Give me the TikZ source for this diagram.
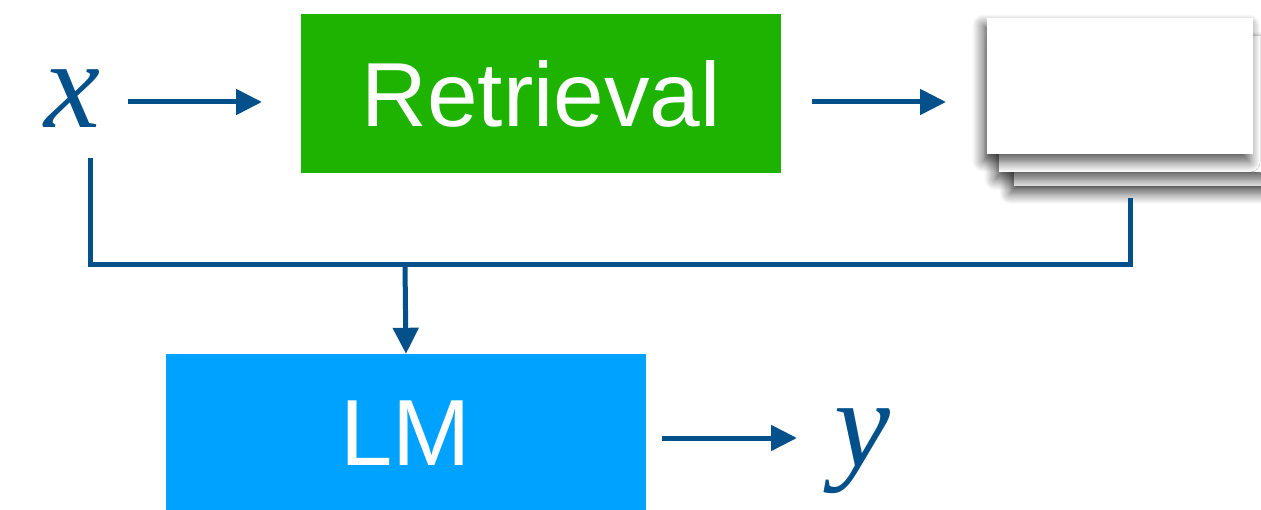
\documentclass[tikz,border=0pt]{standalone}
\usepackage{fontspec}
\setmainfont{Liberation Sans}
\newfontfamily\mathlike{Liberation Serif}
\usetikzlibrary{arrows.meta,shadows,shadows.blur}
\definecolor{linec}{HTML}{04508A}
\definecolor{retr}{HTML}{1DB300}
\definecolor{lmc}{HTML}{00A2FF}
\tikzset{
  conn/.style={draw=linec,line width=5pt},
  arr/.style={conn,-{Triangle[length=26pt,width=25pt]}},
  var/.style={text=linec,font=\mathlike\itshape\fontsize{126}{126}\selectfont,inner sep=0pt,anchor=base},
  blockbox/.style={minimum width=480pt,inner sep=0pt,text=white},
  sheet/.style={fill=white,inner sep=0pt,anchor=north west,blur shadow={shadow xshift=-4pt,shadow yshift=-7pt,shadow blur steps=10,shadow blur radius=11pt,shadow opacity=70}},
}
\begin{document}
\begin{tikzpicture}[x=1pt,y=-1pt]
\useasboundingbox (0,0) rectangle (1261,510);
\clip (0,0) rectangle (1261,510);
\node[var] (x) at (72,128) {x};
\node[var] (y) at (862,466) {y};
\node[blockbox,fill=retr,minimum height=159pt,font=\fontsize{91}{91}\selectfont] (ret) at (541,93.5) {Retrieval};
\node[blockbox,fill=lmc,minimum height=158pt,font=\fontsize{94}{94}\selectfont] (lm) at (406,433) {LM};
% stacked documents
\node[sheet,minimum width=270pt,minimum height=150pt] (d3) at (1014,36) {};
\node[sheet,minimum width=270pt,minimum height=136pt] (d2) at (999,36) {};
\node[sheet,minimum width=266pt,minimum height=136pt] (d1) at (987,18) {};
\coordinate (dstart) at (1130,198);
\coordinate (xstart) at (90,158);
\coordinate (jl) at (90,265);
\coordinate (jr) at (1130,265);
\coordinate (jm) at (405,265);
\draw[arr] (128,102) -- (262,102);
\draw[arr] (812,102) -- (946,102);
\draw[arr] (662,438) -- (797,438);
\draw[conn] (xstart) -- (jl) -- (jr) -- (dstart);
\draw[arr] (jm) -- (lm.north);
\end{tikzpicture}
\end{document}
